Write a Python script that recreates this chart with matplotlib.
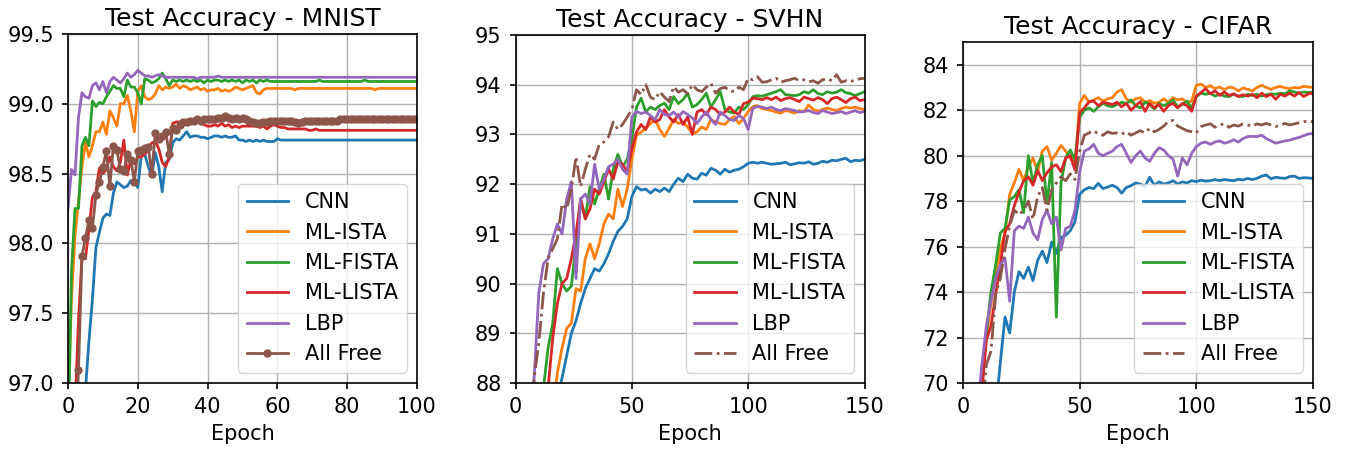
import numpy as np
import matplotlib
matplotlib.use("Agg")
import matplotlib.pyplot as plt

plt.rcParams['font.family'] = ['DejaVu Sans']
plt.rcParams['font.size'] = 15
plt.rcParams['axes.linewidth'] = 1.2
plt.rcParams['xtick.major.width'] = 1.2
plt.rcParams['ytick.major.width'] = 1.2
plt.rcParams['xtick.major.size'] = 4
plt.rcParams['ytick.major.size'] = 4
plt.rcParams['xtick.major.pad'] = 6
plt.rcParams['ytick.major.pad'] = 6

labels = ["CNN", "ML-ISTA", "ML-FISTA", "ML-LISTA", "LBP", "All Free"]
colors = ["#1f77b4", "#ff7f0e", "#2ca02c", "#d62728", "#9467bd", "#8c564b"]

# ---------------- MNIST (epochs 0..100) ----------------
mn_epochs = np.arange(0, 101)
mn_cnn = [95.0, 95.8, 96.3, 96.6, 96.8, 96.95, 97.3, 97.6, 97.97, 98.08,
          98.18, 98.21, 98.2, 98.36, 98.44, 98.42, 98.4, 98.41, 98.45, 98.45,
          98.4, 98.63, 98.64, 98.55, 98.48, 98.65, 98.55, 98.37, 98.58, 98.6,
          98.72, 98.75, 98.74, 98.77, 98.8, 98.76, 98.77, 98.77, 98.76, 98.76,
          98.75, 98.76, 98.77, 98.77, 98.76, 98.77, 98.76, 98.76, 98.77, 98.74,
          98.74, 98.73, 98.74, 98.73, 98.74, 98.73, 98.74, 98.73, 98.73, 98.73,
          98.75, 98.74, 98.74, 98.74, 98.74, 98.74, 98.74, 98.74, 98.74, 98.74,
          98.74, 98.74, 98.74, 98.74, 98.74, 98.74, 98.74, 98.74, 98.74, 98.74,
          98.74, 98.74, 98.74, 98.74, 98.74, 98.74, 98.74, 98.74, 98.74, 98.74,
          98.74, 98.74, 98.74, 98.74, 98.74, 98.74, 98.74, 98.74, 98.74, 98.74,
          98.74]
mn_ista = [96.9, 97.6, 98.05, 98.3, 98.55, 98.72, 98.62, 98.7, 98.8, 98.8,
           98.87, 98.78, 98.95, 98.9, 98.84, 99.0, 99.0, 99.06, 98.95, 98.8,
           99.09, 99.13, 99.05, 99.03, 99.04, 99.07, 99.13, 99.1, 99.12, 99.11,
           99.12, 99.14, 99.11, 99.13, 99.12, 99.1, 99.11, 99.12, 99.1, 99.11,
           99.09, 99.1, 99.1, 99.11, 99.09, 99.1, 99.09, 99.1, 99.12, 99.11,
           99.1, 99.11, 99.12, 99.13, 99.08, 99.07, 99.1, 99.11, 99.11, 99.11,
           99.11, 99.11, 99.11, 99.11, 99.11, 99.1, 99.11, 99.11, 99.11, 99.11,
           99.11, 99.11, 99.11, 99.11, 99.11, 99.11, 99.11, 99.11, 99.11, 99.11,
           99.11, 99.11, 99.11, 99.11, 99.11, 99.11, 99.11, 99.11, 99.1, 99.11,
           99.11, 99.11, 99.11, 99.11, 99.11, 99.11, 99.11, 99.11, 99.11, 99.11,
           99.11]
mn_fista = [96.5, 97.8, 98.25, 98.25, 98.7, 98.76, 98.7, 99.02, 98.98, 99.01,
            99.0, 99.05, 99.09, 99.13, 99.11, 99.11, 99.05, 99.17, 99.12, 99.12,
            99.08, 99.0, 99.18, 99.17, 99.15, 99.16, 99.18, 99.22, 99.18, 99.13,
            99.17, 99.16, 99.17, 99.16, 99.17, 99.16, 99.17, 99.16, 99.17, 99.15,
            99.17, 99.16, 99.17, 99.17, 99.16, 99.17, 99.16, 99.17, 99.16, 99.17,
            99.15, 99.17, 99.16, 99.17, 99.15, 99.17, 99.16, 99.17, 99.16, 99.16,
            99.16, 99.16, 99.16, 99.16, 99.16, 99.16, 99.16, 99.16, 99.16, 99.16,
            99.16, 99.16, 99.17, 99.16, 99.16, 99.16, 99.16, 99.16, 99.16, 99.16,
            99.16, 99.16, 99.16, 99.16, 99.16, 99.17, 99.16, 99.16, 99.16, 99.16,
            99.16, 99.16, 99.16, 99.16, 99.16, 99.16, 99.16, 99.16, 99.16, 99.16,
            99.16]
mn_lista = [95.5, 96.3, 96.8, 97.45, 97.9, 97.89, 98.1, 98.33, 98.37, 98.54,
            98.5, 98.53, 98.62, 98.55, 98.52, 98.58, 98.74, 98.49, 98.6, 98.57,
            98.62, 98.62, 98.64, 98.67, 98.72, 98.73, 98.68, 98.58, 98.55, 98.62,
            98.86, 98.87, 98.87, 98.88, 98.87, 98.88, 98.87, 98.88, 98.86, 98.85,
            98.84, 98.84, 98.85, 98.84, 98.86, 98.84, 98.85, 98.83, 98.84, 98.83,
            98.84, 98.84, 98.84, 98.84, 98.84, 98.83, 98.84, 98.82, 98.84, 98.85,
            98.84, 98.83, 98.83, 98.82, 98.82, 98.82, 98.82, 98.82, 98.82, 98.81,
            98.81, 98.82, 98.81, 98.81, 98.81, 98.81, 98.81, 98.81, 98.81, 98.81,
            98.81, 98.81, 98.81, 98.81, 98.81, 98.81, 98.81, 98.81, 98.81, 98.81,
            98.81, 98.81, 98.81, 98.81, 98.81, 98.81, 98.81, 98.81, 98.81, 98.81,
            98.81]
mn_lbp = [98.25, 98.53, 98.49, 98.9, 99.08, 99.05, 99.04, 99.13, 99.15, 99.1,
          99.16, 99.08, 99.16, 99.19, 99.17, 99.15, 99.18, 99.22, 99.19, 99.21,
          99.24, 99.22, 99.2, 99.2, 99.19, 99.2, 99.21, 99.2, 99.19, 99.19,
          99.19, 99.19, 99.19, 99.19, 99.19, 99.19, 99.19, 99.18, 99.19, 99.19,
          99.19, 99.19, 99.19, 99.2, 99.19, 99.19, 99.19, 99.19, 99.19, 99.19,
          99.19, 99.19, 99.19, 99.19, 99.19, 99.19, 99.19, 99.19, 99.19, 99.19,
          99.19, 99.19, 99.19, 99.19, 99.19, 99.19, 99.19, 99.19, 99.19, 99.19,
          99.19, 99.19, 99.19, 99.19, 99.19, 99.19, 99.19, 99.19, 99.19, 99.19,
          99.19, 99.19, 99.19, 99.19, 99.19, 99.19, 99.19, 99.19, 99.19, 99.19,
          99.19, 99.19, 99.19, 99.19, 99.19, 99.19, 99.19, 99.19, 99.19, 99.19,
          99.19]
mn_free = [95.0, 95.8, 96.5, 97.09, 97.91, 98.04, 98.17, 98.11, 98.35, 98.44,
           98.55, 98.66, 98.41, 98.7, 98.67, 98.53, 98.52, 98.64, 98.6, 98.44,
           98.66, 98.67, 98.68, 98.69, 98.5, 98.79, 98.75, 98.77, 98.8, 98.64,
           98.83, 98.81, 98.85, 98.87, 98.87, 98.88, 98.88, 98.89, 98.88, 98.89,
           98.89, 98.89, 98.89, 98.9, 98.9, 98.91, 98.9, 98.89, 98.9, 98.89,
           98.9, 98.89, 98.88, 98.87, 98.86, 98.86, 98.87, 98.87, 98.88, 98.88,
           98.88, 98.88, 98.88, 98.88, 98.88, 98.87, 98.86, 98.87, 98.88, 98.88,
           98.88, 98.88, 98.88, 98.88, 98.88, 98.88, 98.88, 98.88, 98.89, 98.89,
           98.89, 98.89, 98.89, 98.89, 98.89, 98.89, 98.89, 98.89, 98.89, 98.89,
           98.89, 98.89, 98.89, 98.89, 98.89, 98.89, 98.89, 98.89, 98.89, 98.89,
           98.89]

# ---------------- SVHN (epochs 0..150, every 2) ----------------
sv_epochs = np.arange(0, 151, 2)
sv_cnn = [80, 82, 83, 84, 84.8, 85.5, 86.2, 86.8, 87.3, 87.7,
          88.1, 88.55, 89.0, 89.25, 89.6, 89.9, 90.1, 90.3, 90.25, 90.4,
          90.6, 90.85, 91.05, 91.15, 91.3, 91.75, 91.95, 91.88, 91.9, 91.82,
          91.9, 91.85, 91.92, 91.85, 92.0, 92.12, 92.05, 92.2, 92.12, 92.1,
          92.22, 92.18, 92.32, 92.28, 92.2, 92.3, 92.24, 92.28, 92.3, 92.35,
          92.42, 92.44, 92.42, 92.44, 92.42, 92.4, 92.41, 92.42, 92.44, 92.39,
          92.41, 92.43, 92.42, 92.45, 92.4, 92.42, 92.46, 92.44, 92.48, 92.47,
          92.5, 92.52, 92.45, 92.48, 92.47, 92.5]
sv_ista = [80, 81.5, 82.5, 83.5, 84.5, 85.3, 86.0, 86.8, 87.5, 88.2,
           88.7, 89.1, 89.2, 89.9, 89.85, 90.5, 90.8, 90.5, 90.8, 91.2,
           91.4, 91.3, 91.9, 91.55, 91.9, 92.5, 92.98, 93.05, 93.12, 93.22,
           93.3, 93.1, 92.96, 93.12, 93.3, 93.22, 93.25, 93.15, 93.02, 93.05,
           93.15, 93.1, 93.3, 93.25, 93.22, 93.2, 93.3, 93.36, 93.22, 93.32,
           93.46, 93.56, 93.58, 93.52, 93.5, 93.48, 93.45, 93.43, 93.48, 93.46,
           93.43, 93.48, 93.46, 93.59, 93.5, 93.47, 93.5, 93.53, 93.5, 93.48,
           93.52, 93.55, 93.53, 93.55, 93.52, 93.5]
sv_fista = [80, 82, 83.5, 85, 86.2, 87.2, 87.9, 88.7, 89.2, 90.3,
            90.0, 89.85, 89.95, 90.8, 91.7, 91.3, 91.95, 91.6, 91.9, 92.2,
            91.7, 92.3, 92.6, 92.35, 92.5, 92.9, 93.55, 93.73, 93.45, 93.55,
            93.5, 93.58, 93.63, 93.5, 93.76, 93.62, 93.7, 93.83, 93.55, 93.6,
            93.7, 93.83, 93.55, 93.7, 93.86, 93.5, 93.45, 93.43, 93.55, 93.5,
            93.6, 93.76, 93.78, 93.77, 93.8, 93.83, 93.86, 93.9, 93.8, 93.79,
            93.78, 93.8, 93.86, 93.83, 93.9, 93.82, 93.8, 93.86, 93.83, 93.85,
            93.9, 93.84, 93.82, 93.78, 93.82, 93.86]
sv_lista = [80, 81.5, 82.8, 84, 85, 86, 87, 87.9, 88.9, 89.6,
            90.0, 90.1, 90.5, 91.0, 91.7, 91.3, 91.5, 91.9, 91.8, 92.05,
            92.3, 92.1, 92.45, 92.4, 92.25, 92.7, 93.05, 93.2, 93.1, 93.35,
            93.25, 93.3, 93.5, 93.35, 93.25, 93.4, 93.2, 93.35, 93.0, 93.45,
            93.5, 93.4, 93.55, 93.5, 93.4, 93.45, 93.55, 93.45, 93.4, 93.62,
            93.65, 93.73, 93.72, 93.7, 93.74, 93.7, 93.75, 93.68, 93.72, 93.74,
            93.7, 93.66, 93.75, 93.72, 93.69, 93.74, 93.7, 93.62, 93.72, 93.75,
            93.7, 93.64, 93.72, 93.75, 93.68, 93.7]
sv_lbp = [80, 82, 84, 86.3, 88.1, 89.8, 90.4, 90.5, 90.9, 91.2,
          91.0, 91.7, 92.05, 90.1, 91.7, 91.8, 91.6, 92.4, 91.9, 92.1,
          92.35, 92.4, 92.5, 92.3, 92.2, 93.35, 93.46, 93.42, 93.45, 93.38,
          93.3, 93.5, 93.4, 93.38, 93.45, 93.35, 93.46, 93.4, 93.33, 93.22,
          93.35, 93.45, 93.3, 93.2, 93.45, 93.38, 93.3, 93.28, 93.38, 93.32,
          93.1, 93.53, 93.56, 93.55, 93.52, 93.55, 93.5, 93.48, 93.52, 93.5,
          93.48, 93.45, 93.46, 93.48, 93.44, 93.42, 93.48, 93.45, 93.42, 93.44,
          93.46, 93.42, 93.45, 93.48, 93.44, 93.46]
sv_free = [80, 82.5, 84.5, 86.5, 88.1, 88.8, 89.8, 90.5, 90.7, 90.9,
           91.6, 91.5, 91.9, 92.55, 91.95, 92.3, 92.6, 92.5, 92.8, 92.85,
           92.95, 93.25, 93.1, 93.2, 93.35, 93.5, 93.9, 93.8, 94.0, 93.75,
           93.7, 93.86, 93.75, 93.66, 93.96, 93.85, 93.9, 93.82, 94.0, 93.9,
           93.86, 93.95, 94.03, 93.83, 93.92, 93.95, 93.88, 93.86, 93.95, 93.9,
           94.13, 94.1, 94.16, 94.05, 94.06, 94.1, 94.13, 94.05, 94.08, 94.1,
           94.13, 94.08, 94.1, 94.06, 94.08, 94.03, 94.1, 94.12, 94.08, 94.2,
           94.05, 94.08, 94.06, 94.1, 94.12, 94.13]

# ---------------- CIFAR (epochs 0..150, every 2) ----------------
cf_epochs = np.arange(0, 151, 2)
cf_cnn = [60, 61, 62.5, 64, 65.2, 66.3, 67.3, 68.8, 70.9, 72.9,
          72.2, 74.0, 74.9, 74.6, 75.1, 74.5, 75.4, 75.8, 75.3, 76.2,
          75.7, 76.4, 76.5, 76.7, 77.1, 78.3, 78.5, 78.6, 78.55, 78.78,
          78.55, 78.62, 78.7, 78.6, 78.35, 78.6, 78.68, 78.8, 78.75, 78.65,
          79.05, 78.7, 78.85, 78.75, 78.8, 78.9, 78.75, 78.85, 78.8, 78.9,
          78.86, 78.92, 78.88, 78.9, 78.95, 78.9, 78.95, 78.92, 78.9, 78.96,
          78.93, 79.0, 78.95, 79.0, 79.1, 79.15, 78.98, 79.05, 79.02, 79.0,
          79.08, 79.1, 79.0, 79.03, 79.02, 79.0]
cf_ista = [62, 64, 66, 68, 69.8, 72.0, 73.5, 74.8, 75.9, 76.6,
           78.3, 78.8, 79.4, 78.9, 79.5, 79.9, 79.3, 80.2, 80.4, 79.8,
           80.1, 80.45, 80.2, 79.9, 79.6, 82.3, 82.65, 82.35, 82.45, 82.55,
           82.4, 82.5, 82.55, 82.8, 82.9, 82.5, 82.35, 82.5, 82.55, 82.35,
           82.42, 82.3, 82.35, 82.5, 82.35, 82.55, 82.45, 82.5, 82.35, 82.4,
           83.1, 83.15, 83.0, 83.08, 82.95, 83.02, 82.9, 83.02, 82.98, 82.85,
           82.98, 82.92, 82.85, 83.0, 83.1, 83.0, 82.92, 83.0, 83.05, 82.98,
           82.95, 83.0, 82.98, 83.05, 83.02, 83.0]
cf_fista = [62, 64, 66, 68, 70.3, 72.2, 74.0, 75.2, 76.6, 76.8,
            78.05, 78.2, 78.5, 77.5, 80.0, 78.8, 79.6, 80.0, 77.9, 79.7,
            72.9, 78.8, 79.9, 80.25, 79.8, 81.7, 82.0, 82.1, 81.95, 82.15,
            82.3, 82.2, 82.15, 82.25, 82.35, 82.3, 82.45, 82.2, 82.1, 82.35,
            82.25, 82.05, 82.3, 82.2, 82.3, 82.45, 82.15, 82.25, 82.4, 82.1,
            82.6, 82.75, 82.7, 82.75, 82.62, 82.7, 82.62, 82.6, 82.7, 82.62,
            82.6, 82.7, 82.65, 82.7, 82.62, 82.68, 82.72, 82.7, 82.75, 82.72,
            82.85, 82.8, 82.75, 82.8, 82.78, 82.8]
cf_lista = [61, 63, 65, 67, 69.5, 71.9, 72.5, 73.9, 75.2, 76.65,
            77.0, 77.8, 78.4, 78.9, 79.07, 78.7, 79.35, 78.9, 79.25, 79.5,
            79.6, 79.3, 79.9, 80.0, 79.37, 81.9, 82.1, 82.37, 82.4, 82.2,
            82.35, 82.3, 82.25, 82.35, 82.15, 82.3, 82.0, 82.2, 82.38, 81.95,
            82.3, 82.1, 82.25, 81.95, 82.2, 82.3, 82.1, 82.3, 82.2, 81.95,
            82.62, 82.78, 82.95, 82.72, 82.85, 82.65, 82.8, 82.65, 82.72, 82.6,
            82.68, 82.62, 82.7, 82.55, 82.75, 82.6, 82.7, 82.48, 82.7, 82.62,
            82.75, 82.62, 82.78, 82.6, 82.72, 82.75]
cf_lbp = [62, 64, 66, 68.5, 70.7, 72.5, 73.6, 74.6, 75.2, 75.5,
          73.6, 76.7, 76.9, 76.8, 77.3, 76.6, 76.3, 77.2, 77.6, 77.0,
          77.3, 75.85, 76.8, 76.9, 77.6, 79.3, 80.2, 80.3, 80.5, 80.1,
          80.0, 80.1, 80.2, 80.4, 80.5, 80.1, 79.7, 80.0, 80.2, 79.9,
          79.75, 80.1, 80.35, 80.25, 80.0, 79.85, 79.1, 79.9, 79.6, 80.1,
          80.4, 80.55, 80.6, 80.5, 80.6, 80.65, 80.55, 80.6, 80.7, 80.6,
          80.75, 80.84, 80.85, 80.84, 80.9, 80.75, 80.65, 80.55, 80.6, 80.65,
          80.68, 80.75, 80.8, 80.88, 80.95, 80.98]
cf_free = [60, 62, 64, 66, 68.3, 70.8, 71.4, 73.9, 74.6, 75.9,
           76.9, 77.6, 77.4, 77.6, 78.0, 77.2, 78.2, 78.6, 77.6, 78.5,
           78.8, 79.07, 78.9, 79.2, 78.95, 80.2, 80.9, 81.0, 81.1, 80.95,
           80.9, 81.05, 80.98, 81.0, 80.95, 81.05, 80.9, 81.0, 81.1, 81.0,
           81.2, 81.05, 81.15, 81.3, 81.5, 81.55, 81.3, 81.2, 81.1, 81.05,
           81.0, 81.28, 81.35, 81.4, 81.25, 81.35, 81.4, 81.25, 81.35, 81.3,
           81.4, 81.35, 81.3, 81.4, 81.35, 81.42, 81.35, 81.28, 81.35, 81.42,
           81.35, 81.4, 81.45, 81.5, 81.5, 81.5]

W, H = 1357, 455
fig = plt.figure(figsize=(W / 100, H / 100), dpi=100)


def px_axes(x0, x1, y0, y1):
    return fig.add_axes([x0 / W, (H - y1) / H, (x1 - x0) / W, (y1 - y0) / H])


ax1 = px_axes(68, 417, 34, 383)
ax2 = px_axes(515.5, 864.5, 35, 383)
ax3 = px_axes(963, 1313, 42, 383)

panels = [
    (ax1, "Test Accuracy - MNIST", mn_epochs,
     [mn_cnn, mn_ista, mn_fista, mn_lista, mn_lbp, mn_free],
     (0, 100), (97.0, 99.5), [97.0, 97.5, 98.0, 98.5, 99.0, 99.5], "mnist"),
    (ax2, "Test Accuracy - SVHN", sv_epochs,
     [sv_cnn, sv_ista, sv_fista, sv_lista, sv_lbp, sv_free],
     (0, 150), (88, 95), [88, 89, 90, 91, 92, 93, 94, 95], "svhn"),
    (ax3, "Test Accuracy - CIFAR", cf_epochs,
     [cf_cnn, cf_ista, cf_fista, cf_lista, cf_lbp, cf_free],
     (0, 150), (70, 85), [70, 72, 74, 76, 78, 80, 82, 84], "cifar"),
]

for ax, title, xs, series, xlim, ylim, yticks, name in panels:
    for ys, lab, col in zip(series, labels, colors):
        if lab == "All Free":
            if name == "mnist":
                ax.plot(xs, ys, color=col, lw=2, marker='o', markersize=5, label=lab)
            else:
                ax.plot(xs, ys, color=col, lw=2, linestyle='-.', label=lab)
        else:
            ax.plot(xs, ys, color=col, lw=2, label=lab)
    ax.set_xlim(*xlim)
    ax.set_ylim(*ylim)
    ax.set_yticks(yticks)
    if name == "mnist":
        ax.set_yticklabels([f"{t:.1f}" for t in yticks])
        ax.set_xticks([0, 20, 40, 60, 80, 100])
    else:
        ax.set_xticks([0, 50, 100, 150])
    ax.grid(True, color='#b0b0b0', linewidth=1.0)
    ax.set_axisbelow(True)
    ax.set_title(title, fontsize=18)
    ax.set_xlabel("Epoch", fontsize=15, labelpad=5)
    ax.tick_params(labelsize=15)
    ax.legend(loc='lower right', fontsize=15)

fig.savefig("out.png", dpi=100)
